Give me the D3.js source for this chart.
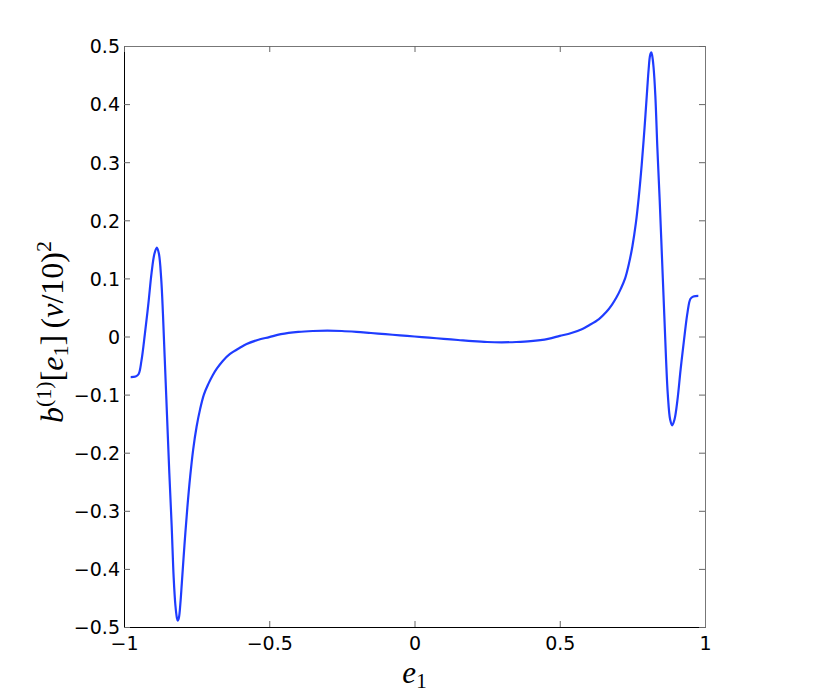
<!DOCTYPE html>
<html>
<head>
<meta charset="utf-8">
<script src="https://cdn.jsdelivr.net/npm/d3@7"></script>
<style>
  body { margin: 0; background: #fff; }
  .tick text { font-family: "DejaVu Sans", Arial, sans-serif; font-size: 19px; fill: #000; }
  .math { font-family: "Liberation Serif", "DejaVu Serif", serif; fill: #000; }
</style>
</head>
<body>
<svg id="chart" width="830" height="697"></svg>
<script>
// e1 positions and curve values
const e1Values = [
  -0.977, -0.960, -0.950, -0.940, -0.928, -0.916, -0.905, -0.895, -0.887, -0.880,
  -0.872, -0.866, -0.860, -0.852, -0.844, -0.836, -0.829, -0.823, -0.818, -0.815,
  -0.811, -0.806, -0.801, -0.792, -0.782, -0.772, -0.762, -0.750, -0.738, -0.725,
  -0.710, -0.695, -0.680, -0.660, -0.635, -0.600, -0.578, -0.540, -0.500, -0.460,
  -0.400, -0.350, -0.300, -0.250, -0.200, -0.150, -0.100, -0.050, 0.000,
  0.050, 0.100, 0.150, 0.200, 0.250, 0.300, 0.350, 0.400, 0.460, 0.500,
  0.540, 0.578, 0.600, 0.635, 0.660, 0.680, 0.695, 0.710, 0.725, 0.738,
  0.750, 0.762, 0.772, 0.782, 0.792, 0.801, 0.806, 0.811, 0.815, 0.818,
  0.823, 0.829, 0.836, 0.844, 0.852, 0.860, 0.866, 0.872, 0.880, 0.887,
  0.895, 0.905, 0.916, 0.928, 0.940, 0.950, 0.960, 0.977
];
const bValues = [
  -0.070, -0.069, -0.065, -0.042, 0.005, 0.057, 0.110, 0.143, 0.153, 0.143,
  0.100, 0.040, -0.035, -0.135, -0.235, -0.325, -0.415, -0.463, -0.484, -0.489,
  -0.484, -0.460, -0.425, -0.360, -0.295, -0.240, -0.195, -0.155, -0.125, -0.100,
  -0.082, -0.067, -0.055, -0.042, -0.030, -0.019, -0.013, -0.006, -0.001, 0.004,
  0.008, 0.0095, 0.010, 0.0095, 0.008, 0.006, 0.004, 0.002, 0.000,
  -0.002, -0.004, -0.006, -0.008, -0.0095, -0.010, -0.0095, -0.008, -0.004, 0.001,
  0.006, 0.013, 0.019, 0.030, 0.042, 0.055, 0.067, 0.082, 0.100, 0.125,
  0.155, 0.195, 0.240, 0.295, 0.360, 0.425, 0.460, 0.484, 0.489, 0.484,
  0.463, 0.415, 0.325, 0.235, 0.135, 0.035, -0.040, -0.100, -0.143, -0.153,
  -0.143, -0.110, -0.057, -0.005, 0.042, 0.065, 0.069, 0.070
];
const xTicks = [-1, -0.5, 0, 0.5, 1];
const yTicks = [-0.5, -0.4, -0.3, -0.2, -0.1, 0, 0.1, 0.2, 0.3, 0.4, 0.5];

const margin = {left: 124, top: 46, right: 125, bottom: 70};
const width = 830 - margin.left - margin.right;
const height = 697 - margin.top - margin.bottom;

const svg = d3.select('#chart');
const g = svg.append('g').attr('transform', `translate(${margin.left},${margin.top})`);

const x = d3.scaleLinear().domain([-1, 1]).range([0, width]);
const y = d3.scaleLinear().domain([-0.5, 0.5]).range([height, 0]);

// MATLAB style number format with a real minus sign
const fmt = (d) => (d < 0 ? '\u2212' : '') + String(Math.abs(d));

// Axes with inward ticks
const xAxis = g.append('g').attr('transform', `translate(0,${height})`).
  call(d3.axisBottom(x).tickValues(xTicks).tickSize(-6).tickPadding(10).tickFormat(fmt));
const yAxis = g.append('g').
  call(d3.axisLeft(y).tickValues(yTicks).tickSize(-6).tickPadding(4).tickFormat(fmt));
const xTop = g.append('g').
  call(d3.axisTop(x).tickValues(xTicks).tickSize(-6).tickFormat(''));
const yRight = g.append('g').attr('transform', `translate(${width},0)`).
  call(d3.axisRight(y).tickValues(yTicks).tickSize(-6).tickFormat(''));

[xAxis, yAxis].forEach((a) => {
  a.select('.domain').attr('stroke', '#000').attr('stroke-width', 1);
  a.selectAll('.tick line').attr('stroke', '#666');
});
[xTop, yRight].forEach((a) => {
  a.select('.domain').attr('stroke', '#777').attr('stroke-width', 1);
  a.selectAll('.tick line').attr('stroke', '#666');
});
yAxis.selectAll('.tick text').attr('dy', '0.36em');

// Curve
const points = e1Values.map((e, i) => [e, bValues[i]]);
const line = d3.line().
  x((d) => x(d[0])).
  y((d) => y(d[1])).
  curve(d3.curveCatmullRom.alpha(0.5));
g.append('path').
  datum(points).
  attr('fill', 'none').
  attr('stroke', '#1f3cff').
  attr('stroke-width', 2.2).
  attr('stroke-linejoin', 'round').
  attr('d', line);

// x label: e_1 (sits just under the "0" tick label, as in the original)
const xl = svg.append('text').attr('class', 'math').
  attr('x', margin.left + width / 2).attr('y', 683).
  attr('text-anchor', 'middle').attr('font-size', 31);
xl.append('tspan').attr('font-style', 'italic').text('e');
xl.append('tspan').attr('font-size', 21).attr('dy', 5).text('1');

// y label: b^(1)[e_1] (nu/10)^2
const yl = svg.append('text').attr('class', 'math').
  attr('transform', `translate(63,332) rotate(-90)`).
  attr('text-anchor', 'middle').attr('font-size', 32);
yl.append('tspan').attr('font-style', 'italic').text('b');
yl.append('tspan').attr('font-size', 22).attr('dy', -12).text('(1)');
yl.append('tspan').attr('dy', 12).text('[');
yl.append('tspan').attr('font-style', 'italic').text('e');
yl.append('tspan').attr('font-size', 22).attr('dy', 5).text('1');
yl.append('tspan').attr('dy', -5).text(']\u2009(');
yl.append('tspan').attr('font-style', 'italic').text('\u03bd');
yl.append('tspan').text('/10)');
yl.append('tspan').attr('font-size', 22).attr('dy', -12).text('2');
</script>
</body>
</html>
